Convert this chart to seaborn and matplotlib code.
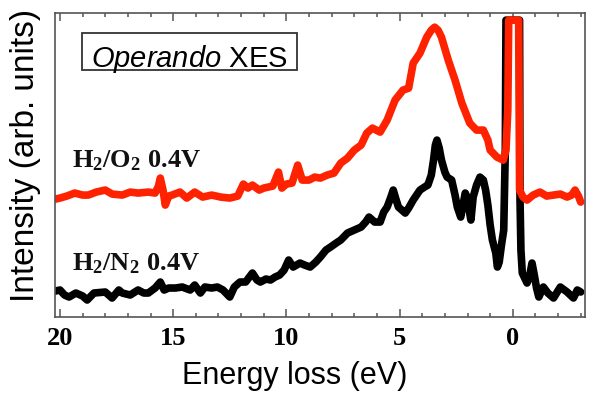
import matplotlib
matplotlib.use("Agg")
import matplotlib.pyplot as plt
import seaborn as sns
import pandas as pd
from matplotlib.patches import Rectangle
from matplotlib.ticker import MultipleLocator

# ---------------- data ----------------
energy_o2 = [20.2, 20.0, 19.7, 19.35, 19.0, 18.75, 18.4, 18.0, 17.7, 17.25, 16.9, 16.55,
             16.1, 15.8, 15.65, 15.57, 15.45, 15.35, 15.2, 15.05, 14.7, 14.4, 14.05, 13.7,
             13.3, 12.9, 12.5, 12.15, 11.9, 11.7, 11.5, 11.2, 11.0, 10.6, 10.35, 10.2, 10.0,
             9.75, 9.5, 9.3, 9.0, 8.75, 8.5, 8.2, 7.9, 7.6, 7.3, 7.0, 6.7, 6.45, 6.2, 5.86,
             5.55, 5.2, 4.85, 4.6, 4.4, 4.1, 3.8, 3.6, 3.45, 3.3, 3.15, 2.85, 2.55, 2.25,
             1.9, 1.6, 1.3, 1.1, 1.0, 0.7, 0.42, 0.3, 0.22, 0.18, -0.26, -0.3, -0.45, -0.63,
             -0.9, -1.2, -1.5, -1.8, -2.1, -2.4, -2.6, -2.75, -2.9, -3.0]
intensity_o2 = [1.18, 1.19, 1.21, 1.24, 1.22, 1.22, 1.25, 1.27, 1.23, 1.22, 1.25, 1.24,
                1.25, 1.24, 1.31, 1.39, 1.27, 1.12, 1.21, 1.22, 1.25, 1.19, 1.25, 1.20,
                1.22, 1.20, 1.19, 1.21, 1.33, 1.29, 1.32, 1.27, 1.29, 1.31, 1.45, 1.29, 1.33,
                1.34, 1.52, 1.37, 1.37, 1.40, 1.39, 1.42, 1.44, 1.54, 1.59, 1.67, 1.72, 1.84,
                1.89, 1.85, 1.97, 2.17, 2.27, 2.29, 2.54, 2.64, 2.80, 2.87, 2.90, 2.87, 2.80,
                2.57, 2.37, 2.14, 1.94, 1.87, 1.87, 1.77, 1.67, 1.60, 1.57, 1.67, 2.07, 2.97,
                2.97, 1.27, 1.20, 1.17, 1.22, 1.25, 1.21, 1.22, 1.23, 1.20, 1.22, 1.27, 1.21,
                1.15]

energy_n2 = [20.2, 20.0, 19.8, 19.6, 19.3, 19.0, 18.8, 18.5, 18.0, 17.7, 17.4, 17.25, 16.9,
             16.55, 16.3, 16.1, 15.8, 15.57, 15.4, 15.2, 14.9, 14.6, 14.25, 14.05, 13.8,
             13.6, 13.3, 13.05, 12.8, 12.5, 12.3, 12.05, 11.8, 11.5, 11.3, 11.15, 10.9, 10.7,
             10.5, 10.3, 10.1, 9.9, 9.7, 9.4, 9.2, 8.95, 8.7, 8.5, 8.25, 8.05, 7.8, 7.6, 7.3,
             7.0, 6.7, 6.5, 6.35, 6.1, 5.86, 5.7, 5.55, 5.4, 5.28, 5.15, 5.05, 4.9, 4.75, 4.6,
             4.4, 4.25, 4.1, 3.9, 3.75, 3.6, 3.5, 3.42, 3.35, 3.25, 3.15, 3.0, 2.9, 2.7, 2.55,
             2.45, 2.3, 2.2, 2.1, 2.0, 1.95, 1.85, 1.75, 1.6, 1.45, 1.3, 1.2, 1.1, 1.0, 0.9,
             0.75, 0.68, 0.6, 0.5, 0.4, 0.33, 0.3, -0.3, -0.32, -0.36, -0.42, -0.63, -0.75,
             -0.85, -0.95, -1.05, -1.15, -1.35, -1.55, -1.8, -2.1, -2.4, -2.68, -2.85, -3.0]
intensity_n2 = [0.26, 0.27, 0.22, 0.20, 0.24, 0.21, 0.17, 0.24, 0.25, 0.19, 0.27, 0.24, 0.22,
                0.27, 0.24, 0.24, 0.29, 0.35, 0.27, 0.29, 0.29, 0.30, 0.27, 0.32, 0.24,
                0.30, 0.29, 0.30, 0.27, 0.20, 0.30, 0.35, 0.35, 0.44, 0.37, 0.35, 0.38, 0.37,
                0.40, 0.42, 0.47, 0.57, 0.50, 0.54, 0.52, 0.50, 0.55, 0.60, 0.67, 0.70, 0.74,
                0.77, 0.84, 0.87, 0.90, 0.95, 1.00, 0.95, 0.95, 1.05, 1.10, 1.19, 1.27, 1.17,
                1.10, 1.07, 1.04, 1.09, 1.17, 1.22, 1.27, 1.30, 1.32, 1.42, 1.57, 1.72, 1.77,
                1.69, 1.57, 1.45, 1.40, 1.37, 1.22, 1.10, 1.00, 1.12, 1.24, 1.19, 1.10, 0.97,
                1.20, 1.32, 1.40, 1.37, 1.27, 1.12, 0.92, 0.77, 0.64, 0.50, 0.55, 0.72, 0.87,
                1.67, 2.97, 2.97, 1.17, 0.67, 0.44, 0.34, 0.42, 0.54, 0.42, 0.29, 0.20, 0.30,
                0.24, 0.19, 0.30, 0.25, 0.19, 0.27, 0.25]

x_ticks = [20, 15, 10, 5, 0]
x_tick_labels = ["20", "15", "10", "5", "0"]
label_o2 = r"$\mathbf{H_2/O_2\ 0.4V}$"
label_n2 = r"$\mathbf{H_2/N_2\ 0.4V}$"

df_o2 = pd.DataFrame({"E": energy_o2, "I": intensity_o2})
df_n2 = pd.DataFrame({"E": energy_n2, "I": intensity_n2})

# ---------------- style ----------------
sns.set_style("white")
plt.rcParams["font.family"] = ["Liberation Sans", "DejaVu Sans"]
plt.rcParams["text.color"] = "black"
plt.rcParams["axes.labelcolor"] = "black"
plt.rcParams["xtick.labelcolor"] = "black"
plt.rcParams["mathtext.fontset"] = "custom"
plt.rcParams["mathtext.bf"] = "Liberation Serif:bold"
plt.rcParams["mathtext.rm"] = "Liberation Serif:bold"
plt.rcParams["mathtext.it"] = "Liberation Sans:italic"

fig = plt.figure(figsize=(6.0, 3.99), dpi=100)
ax = fig.add_axes([0.0917, 0.2055, 0.8833, 0.7615])

sns.lineplot(data=df_n2, x="E", y="I", ax=ax, color="black", lw=5.5,
             estimator=None, sort=False, solid_joinstyle="round", solid_capstyle="round")
sns.lineplot(data=df_o2, x="E", y="I", ax=ax, color="#ff2200", lw=5.5,
             estimator=None, sort=False, solid_joinstyle="round", solid_capstyle="round")

ax.set_xlim(20.22, -3.19)
ax.set_ylim(0, 3.04)
ax.set_yticks([])
ax.set_xticks(x_ticks)
ax.set_xticklabels(x_tick_labels, fontfamily="Liberation Serif", fontweight="bold",
                   fontsize=19, color="black")
ax.xaxis.set_minor_locator(MultipleLocator(1))
ax.tick_params(axis="x", which="major", direction="in", top=True, bottom=True,
               length=6, width=1.1, color="#555555", pad=7)
ax.tick_params(axis="x", which="minor", direction="in", top=True, bottom=True,
               length=3, width=1.1, color="#555555")
for sp in ax.spines.values():
    sp.set_color("#555555")
    sp.set_linewidth(1.2)

ax.set_xlabel("Energy loss (eV)", fontsize=22, color="black")
ax.xaxis.label.set_va("center")
ax.xaxis.set_label_coords(0.453, -0.194)
ax.set_ylabel("Intensity (arb. units)", fontsize=24, color="black")
ax.yaxis.label.set_va("center")
ax.yaxis.set_label_coords(-0.0566, 0.533)

ax.text(0.032, 0.493, label_o2, transform=ax.transAxes, fontsize=19,
        ha="left", va="baseline", color="#111111")
ax.text(0.032, 0.155, label_n2, transform=ax.transAxes, fontsize=19,
        ha="left", va="baseline", color="#111111")

ax.add_patch(Rectangle((0.051, 0.8125), 0.406, 0.1215, transform=ax.transAxes,
                       facecolor="white", edgecolor="#333333", lw=1.3, zorder=5))
ax.text(0.253, 0.822, r"$\mathit{Operando}$ XES", transform=ax.transAxes,
        fontsize=21, ha="center", va="baseline", color="black", zorder=6)

fig.savefig("out.png", dpi=100)
